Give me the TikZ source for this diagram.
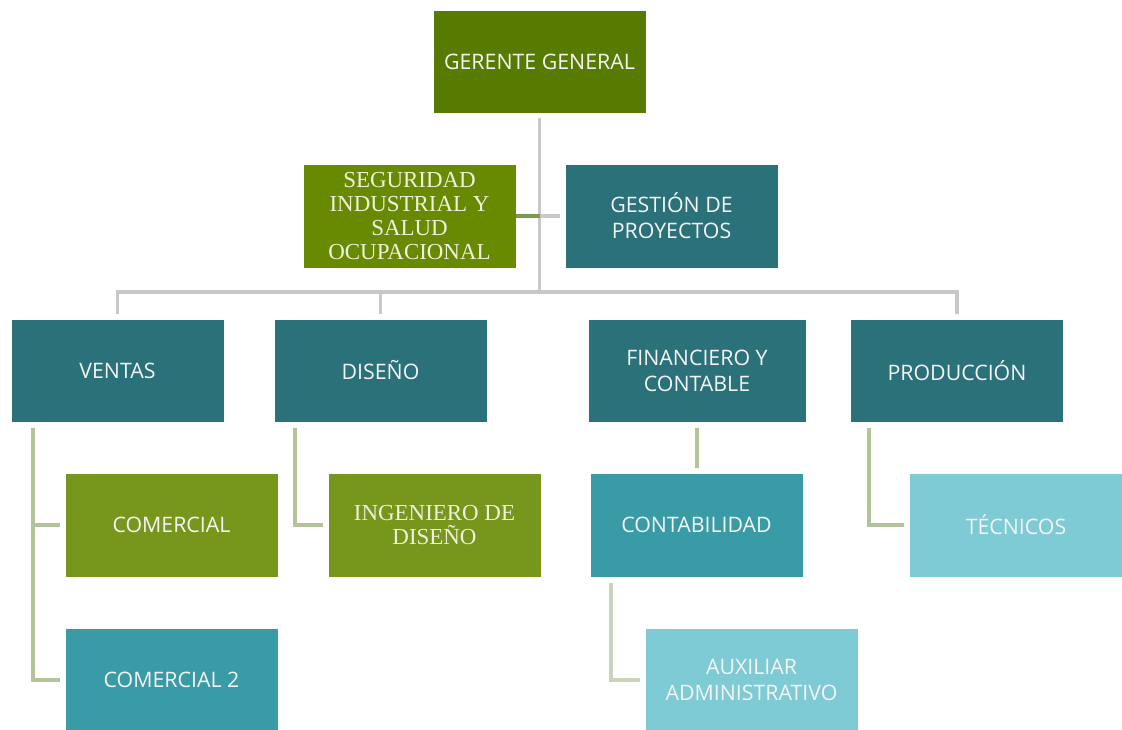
\documentclass[tikz,border=0pt]{standalone}
\usepackage{fontspec}
\setmainfont{Liberation Serif}
\newfontfamily\boxfont{Open Sans}
\usetikzlibrary{calc}
\definecolor{cGer}{RGB}{87,122,0}
\definecolor{cSeg}{RGB}{103,138,0}
\definecolor{cTealD}{RGB}{42,113,122}
\definecolor{cGreenL}{RGB}{118,151,27}
\definecolor{cTealM}{RGB}{56,155,166}
\definecolor{cTealL}{RGB}{126,202,213}
\definecolor{cGrey}{RGB}{200,200,200}
\definecolor{cStub}{RGB}{124,154,78}
\definecolor{cBranch}{RGB}{179,195,154}
\definecolor{cBranchL}{RGB}{201,213,186}
\definecolor{cTxt}{RGB}{245,245,245}
\definecolor{cTxtS}{RGB}{240,240,222}
\begin{document}
\begin{tikzpicture}[x=0.75pt,y=-0.75pt,
  box/.style={rectangle, draw=white, line width=0.4pt, inner sep=0pt,
    minimum width=159.75pt, minimum height=78pt, align=center,
    text=cTxt, font=\boxfont\fontsize{16}{19.5}\selectfont},
  serifbox/.style={box, text=cTxtS, font=\rmfamily\fontsize{17.2}{18}\selectfont},
  gline/.style={draw=cGrey, line width=2.6pt},
  bline/.style={draw=cBranch, line width=3pt},
  blinel/.style={draw=cBranchL, line width=3pt}]
\useasboundingbox (0,0) rectangle (1122,729);
\node[box, fill=cGer, minimum height=77.25pt] (ger) at (539.5,61.5) {GERENTE GENERAL};
\node[serifbox, fill=cSeg] (seg) at (409.5,216) {SEGURIDAD\\INDUSTRIAL Y\\SALUD\\OCUPACIONAL};
\node[box, fill=cTealD] (ges) at (671.5,216) {GESTIÓN DE\\PROYECTOS};
\node[box, fill=cTealD, minimum height=77.25pt] (ven) at (117.5,370.5) {VENTAS};
\node[box, fill=cTealD, minimum height=77.25pt] (dis) at (380.5,370.5) {DISEÑO};
\node[box, fill=cTealD, minimum height=77.25pt, minimum width=163.5pt] (fin) at (697,370.5) {FINANCIERO Y\\CONTABLE};
\node[box, fill=cTealD, minimum height=77.25pt] (pro) at (957,370.5) {PRODUCCIÓN};
\node[box, fill=cGreenL] (com) at (171.5,525) {COMERCIAL};
\node[serifbox, fill=cGreenL] (ing) at (434.5,525) {INGENIERO DE\\DISEÑO};
\node[box, fill=cTealM] (cont) at (696.5,525) {CONTABILIDAD};
\node[box, fill=cTealL] (tec) at (1016,525) {TÉCNICOS};
\node[box, fill=cTealM] (com2) at (171.5,680) {COMERCIAL 2};
\node[box, fill=cTealL] (aux) at (751.5,680) {AUXILIAR\\ADMINISTRATIVO};
% main bus
\coordinate (bus) at (540,292);
\draw[gline, shorten <=5*0.75pt] (ger.south) -- (ger.south |- bus);
\draw[gline, line cap=rect] (ven.north |- bus) -- (pro.north |- bus);
\draw[gline, shorten >=5*0.75pt] (ven.north |- bus) -- (ven.north);
\draw[gline, shorten >=5*0.75pt] (dis.north |- bus) -- (dis.north);
\draw[gline, shorten >=5*0.75pt] (pro.north |- bus) -- (pro.north);
% staff stubs
\coordinate (mid) at (ger.south |- seg.east);
\draw[draw=cStub, line width=3pt] (seg.east) -- (mid);
\draw[gline, shorten >=5*0.75pt] (mid) -- (ges.west);
% branches
\coordinate (vtop) at ($(ven.south west)+(22,6)$);
\draw[bline] (vtop) |- ($(com2.west)+(-5,0)$);
\draw[bline] (vtop) |- ($(com.west)+(-5,0)$);
\draw[bline] ($(dis.south west)+(21,6)$) |- ($(ing.west)+(-5,0)$);
\draw[bline, shorten <=6*0.75pt, shorten >=5*0.75pt] (fin.south) -- (fin.south |- cont.north);
\draw[bline] ($(pro.south west)+(19,6)$) |- ($(tec.west)+(-5,0)$);
\draw[blinel] ($(cont.south west)+(21,6)$) |- ($(aux.west)+(-5,0)$);
\end{tikzpicture}
\end{document}
